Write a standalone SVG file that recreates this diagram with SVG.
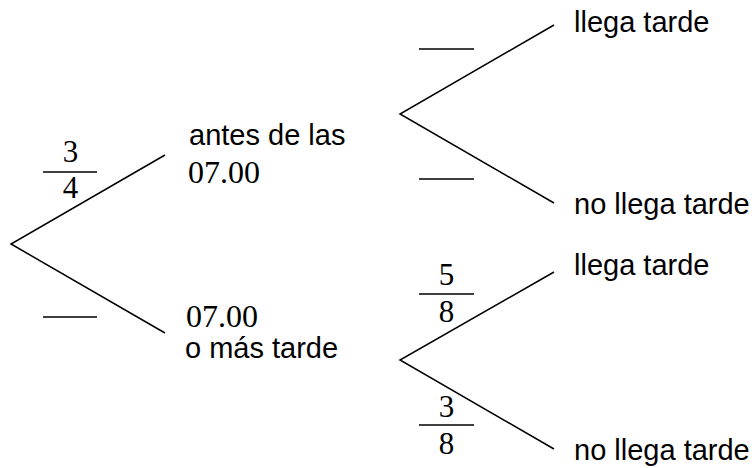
<svg xmlns="http://www.w3.org/2000/svg" width="755" height="468" viewBox="0 0 755 468">
  <style>
    .edge { stroke: #000; stroke-width: 1.5; fill: none; }
    .bar { stroke: #000; stroke-width: 1.5; }
    .lbl { font-family: "Liberation Sans", Arial, sans-serif; font-size: 29px; fill: #000; }
    .num { font-family: "Liberation Serif", "Times New Roman", serif; font-size: 32px; fill: #000; }
    .frac { font-family: "Liberation Serif", "Times New Roman", serif; font-size: 31px; fill: #000; text-anchor: middle; }
  </style>
  <rect width="755" height="468" fill="#fff"/>

  <!-- tree branches -->
  <g id="connectors">
    <polyline class="edge" points="165,155 11,244 165,333"/>
    <polyline class="edge" points="554,25 400,114 554,203"/>
    <polyline class="edge" points="554,272 400,360 554,449"/>
  </g>

  <!-- probability slots on the branches -->
  <g id="prob-first">
    <text class="frac" x="70.5" y="162">3</text>
    <line class="bar" x1="43" y1="172" x2="97" y2="172"/>
    <text class="frac" x="70.5" y="198">4</text>
    <line class="bar" x1="43" y1="317" x2="97" y2="317"/>
  </g>
  <g id="prob-before">
    <line class="bar" x1="419" y1="49" x2="474" y2="49"/>
    <line class="bar" x1="419" y1="179" x2="474" y2="179"/>
  </g>
  <g id="prob-after">
    <text class="frac" x="446.5" y="285">5</text>
    <line class="bar" x1="419" y1="294" x2="474" y2="294"/>
    <text class="frac" x="446.5" y="322">8</text>
    <text class="frac" x="446.5" y="417">3</text>
    <line class="bar" x1="419" y1="425" x2="474" y2="425"/>
    <text class="frac" x="446.5" y="454">8</text>
  </g>

  <!-- outcomes -->
  <g id="node-antes">
    <text class="lbl" x="189" y="145">antes de las</text>
    <text class="num" x="188" y="183">07.00</text>
  </g>
  <g id="node-despues">
    <text class="num" x="186" y="327">07.00</text>
    <text class="lbl" x="185" y="358">o más tarde</text>
  </g>
  <g id="node-antes-tarde">
    <text class="lbl" x="574" y="32">llega tarde</text>
  </g>
  <g id="node-antes-no-tarde">
    <text class="lbl" x="574" y="214">no llega tarde</text>
  </g>
  <g id="node-despues-tarde">
    <text class="lbl" x="574" y="275">llega tarde</text>
  </g>
  <g id="node-despues-no-tarde">
    <text class="lbl" x="574" y="460">no llega tarde</text>
  </g>
</svg>
